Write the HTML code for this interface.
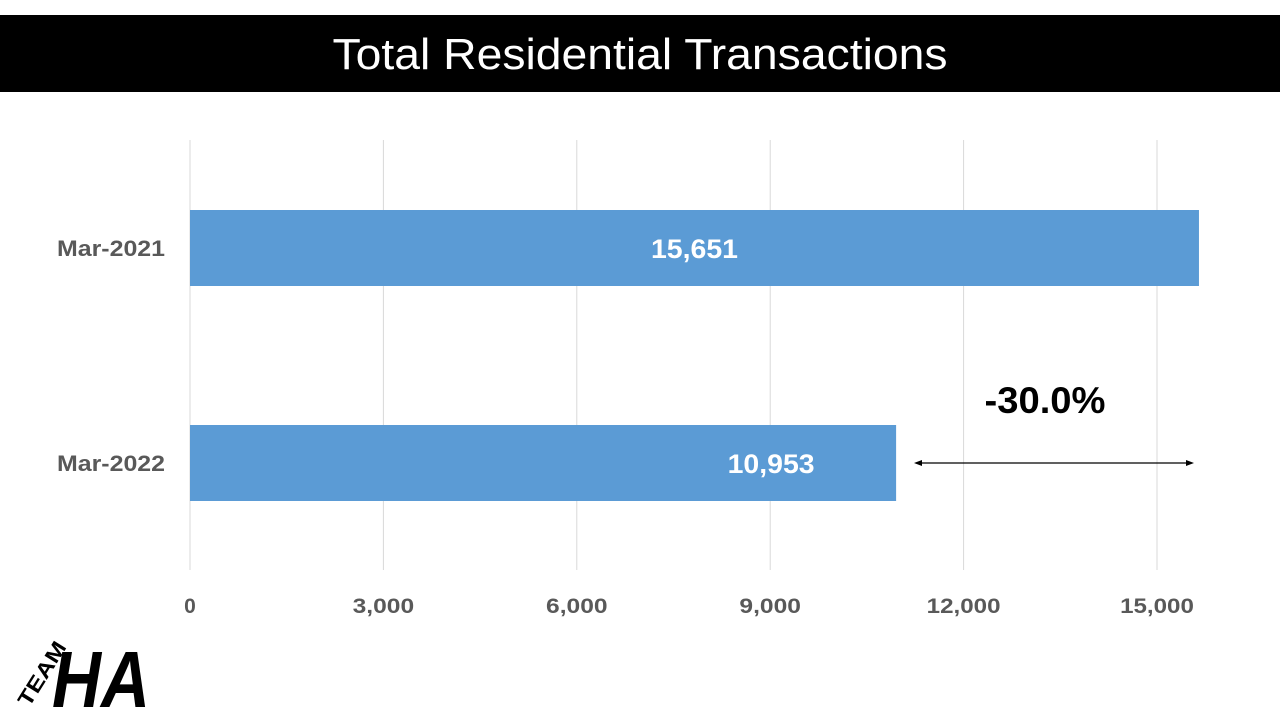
<!DOCTYPE html>
<html><head><meta charset="utf-8"><style>
html,body{margin:0;padding:0;background:#fff;width:1280px;height:720px;overflow:hidden}
svg{display:block;font-family:"Liberation Sans",sans-serif}
</style></head><body>
<svg id="c" width="1280" height="720">
<rect x="0" y="15" width="1280" height="77" fill="#000"/>
<text x="640" y="69" text-anchor="middle" fill="#fff" font-size="44" textLength="615" lengthAdjust="spacingAndGlyphs">Total Residential Transactions</text>
<g id="grid"></g><g id="bars"></g><g id="labels"></g>
<g>
<line x1="920" y1="463" x2="1188" y2="463" stroke="#000" stroke-width="1.2"/>
<polygon points="914,463 922,460 922,466" fill="#000"/>
<polygon points="1194,463 1186,460 1186,466" fill="#000"/>
<text x="1045" y="413" text-anchor="middle" font-size="37" font-weight="bold" fill="#000" textLength="121" lengthAdjust="spacingAndGlyphs">-30.0%</text>
</g>
<g>
<text transform="translate(29,708) rotate(-58)" font-size="21" font-weight="bold" fill="#000" textLength="72" lengthAdjust="spacingAndGlyphs">TEAM</text>
<text x="52" y="707" font-size="80" font-weight="bold" font-style="italic" fill="#000" textLength="98" lengthAdjust="spacingAndGlyphs">HA</text>
</g>
</svg>
<script>
const categories=["Mar-2021","Mar-2022"];
const values=[15651,10953];
const valueLabels=["15,651","10,953"];
const ticks=[0,3000,6000,9000,12000,15000];
const tickLabels=["0","3,000","6,000","9,000","12,000","15,000"];
const NS="http://www.w3.org/2000/svg";
const x0=190,pxPer=967/15000;
const xs=v=>x0+v*pxPer;
const bandTop=140,bandH=215;
const yc=i=>bandTop+bandH*i+108;
const g=document.getElementById('grid'),b=document.getElementById('bars'),l=document.getElementById('labels');
function mk(tag,attrs,parent){const e=document.createElementNS(NS,tag);for(const k in attrs)e.setAttribute(k,attrs[k]);parent.appendChild(e);return e;}
ticks.forEach((t,i)=>{
 const ln=mk('line',{x1:xs(t),x2:xs(t),y1:140,y2:570,stroke:'#d9d9d9','stroke-width':1},g);
 
 
 const tx=mk('text',{x:xs(t),y:613,'text-anchor':'middle','font-size':21,'font-weight':'bold',fill:'#595959'},l);
 tx.textContent=tickLabels[i];
 if(tickLabels[i].length>1){tx.setAttribute('textLength',tickLabels[i].length*12.3);tx.setAttribute('lengthAdjust','spacingAndGlyphs');}
 
 
});
categories.forEach((c,i)=>{
 const y=yc(i);
 const r=mk('rect',{x:x0,y:y-38,width:xs(values[i])-x0,height:76,fill:'#5b9bd5'},b);
 
 
 const ct=mk('text',{x:165,y:y+8,'text-anchor':'end','font-size':22,'font-weight':'bold',fill:'#595959',textLength:108,lengthAdjust:'spacingAndGlyphs'},l);
 ct.textContent=c;
 
 
 const w=xs(values[i])-x0;
 const cx=i===0?x0+w*0.5:x0+w*0.823;
 const vt=mk('text',{x:cx,y:y+10,'text-anchor':'middle','font-size':27,'font-weight':'bold',fill:'#fff',textLength:87,lengthAdjust:'spacingAndGlyphs'},l);
 vt.textContent=valueLabels[i];
 
 
});
</script>
</body></html>
